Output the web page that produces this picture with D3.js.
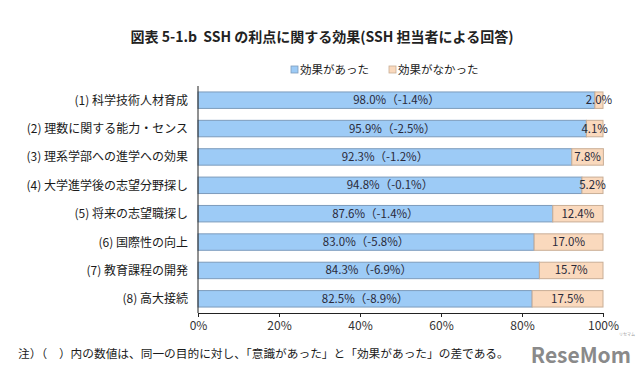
<!DOCTYPE html>
<html><head><meta charset="utf-8">
<script src="https://cdn.jsdelivr.net/npm/d3@7"></script>
<style>
body{margin:0;background:#fff;}
svg text{font-family:"Noto Sans CJK JP","Noto Sans",sans-serif;}
</style></head>
<body><svg id="c" width="640" height="368"></svg>
<script>
const categories = ["(1) 科学技術人材育成","(2) 理数に関する能力・センス","(3) 理系学部への進学への効果","(4) 大学進学後の志望分野探し","(5) 将来の志望職探し","(6) 国際性の向上","(7) 教育課程の開発","(8) 高大接続"];
const effectYes = [98.0, 95.9, 92.3, 94.8, 87.6, 83.0, 84.3, 82.5];
const effectNo = [2.0, 4.1, 7.8, 5.2, 12.4, 17.0, 15.7, 17.5];
const diffs = [-1.4, -2.5, -1.2, -0.1, -1.4, -5.8, -6.9, -8.9];
const seriesNames = ["効果があった", "効果がなかった"];
const tickValues = [0, 20, 40, 60, 80, 100];

const svg = d3.select("#c");
const L = 198, R = 603, T = 86, B = 313;
const x = d3.scaleLinear().domain([0, 100]).range([L, R]);
const y = d3.scaleBand().domain(categories).range([T, B]).paddingInner(0.42).paddingOuter(0.21);

const colYes = "#9dcbf6", colNo = "#fad9bd";
const strokeYes = "#7d9cbc", strokeNo = "#c9ae96";

svg.append("text").attr("x", 322).attr("y", 42).attr("text-anchor", "middle")
  .attr("font-size", 14).attr("font-weight", "bold").attr("fill", "#222")
  .attr("xml:space", "preserve").style("white-space", "pre")
  .text("図表 5-1.b  SSH の利点に関する効果(SSH 担当者による回答)");

// legend
const leg = [{x: 291, c: colYes, s: strokeYes}, {x: 389, c: colNo, s: strokeNo}];
leg.forEach((d, i) => {
  svg.append("rect").attr("x", d.x).attr("y", 66).attr("width", 7).attr("height", 7)
    .attr("fill", d.c).attr("stroke", d.s).attr("stroke-width", 0.8);
  svg.append("text").attr("x", d.x + 9).attr("y", 74).attr("font-size", 11.5).attr("fill", "#222")
    .text(seriesNames[i]);
});

// bars
const g = svg.append("g");
categories.forEach((c, i) => {
  const yy = y(c), h = y.bandwidth();
  g.append("rect").attr("x", x(0)).attr("y", yy).attr("width", x(effectYes[i]) - x(0)).attr("height", h)
    .attr("fill", colYes).attr("stroke", strokeYes).attr("stroke-width", 1);
  g.append("rect").attr("x", x(effectYes[i])).attr("y", yy)
    .attr("width", x(effectYes[i] + effectNo[i]) - x(effectYes[i])).attr("height", h)
    .attr("fill", colNo).attr("stroke", strokeNo).attr("stroke-width", 1);
  g.append("text").attr("x", (x(0) + x(effectYes[i])) / 2).attr("y", yy + h / 2 + 4)
    .attr("text-anchor", "middle").attr("font-size", 11.5).attr("fill", "#2a2a3a")
    .text(effectYes[i].toFixed(1) + "%（" + diffs[i].toFixed(1) + "%）");
  g.append("text").attr("x", (x(effectYes[i]) + x(effectYes[i] + effectNo[i])) / 2).attr("y", yy + h / 2 + 4)
    .attr("text-anchor", "middle").attr("font-size", 11.5).attr("fill", "#2a2a3a")
    .text(effectNo[i].toFixed(1) + "%");
  svg.append("text").attr("x", 188).attr("y", yy + h / 2 + 4.5).attr("text-anchor", "end")
    .attr("font-size", 12).attr("fill", "#1a1a1a").text(c);
});

// axes
const xAxis = d3.axisBottom(x).tickValues(tickValues).tickFormat(d => d + "%").tickSize(4).tickSizeOuter(0);
const ax = svg.append("g").attr("transform", `translate(0,${B})`).call(xAxis);
ax.select(".domain").attr("stroke", "#222");
ax.selectAll(".tick line").attr("stroke", "#222");
ax.selectAll(".tick text").attr("font-size", 12).attr("fill", "#333").attr("dy", "0.85em")
  .attr("font-family", "\"Noto Sans CJK JP\",sans-serif");
svg.append("line").attr("x1", L).attr("x2", L).attr("y1", T).attr("y2", B).attr("stroke", "#222");

svg.append("text").attr("x", 18).attr("y", 358).attr("font-size", 11.7).attr("fill", "#1a1a1a")
  .text("注）（　）内の数値は、同一の目的に対し、「意識があった」と「効果があった」の差である。");

svg.append("text").attr("x", 631).attr("y", 363).attr("text-anchor", "end").attr("font-size", 21)
  .attr("font-weight", "bold").attr("fill", "#8a8a8a").attr("font-family", "\"Liberation Sans Narrow\",Roboto,sans-serif")
  .text("ReseMom");
svg.append("text").attr("x", 635).attr("y", 336).attr("text-anchor", "end").attr("font-size", 4)
  .attr("fill", "#999").text("リセマム");
</script></body></html>
